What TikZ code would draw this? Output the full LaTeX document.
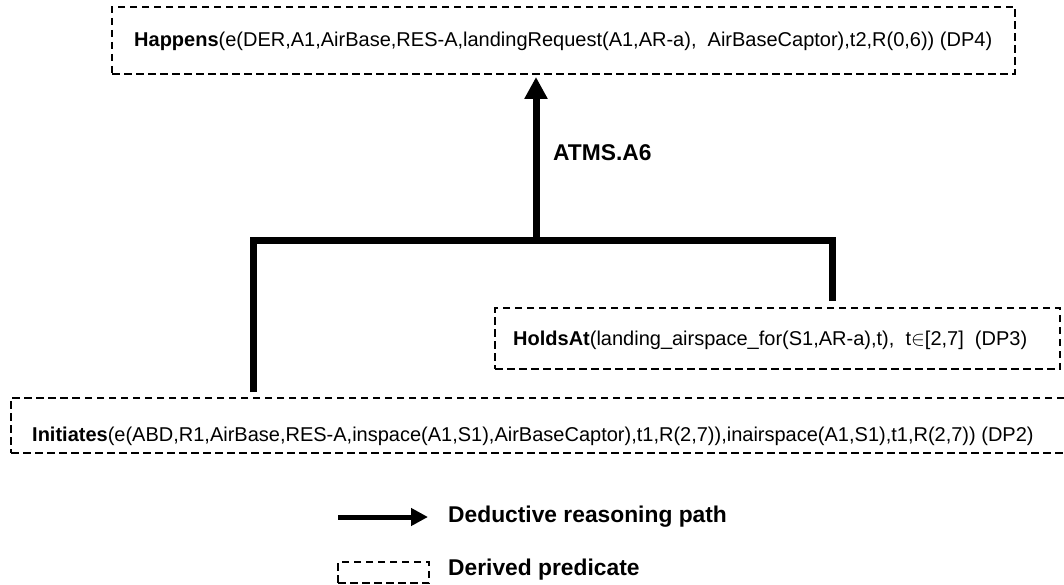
\documentclass[tikz,border=0pt]{standalone}
\usepackage{fontspec}
\setmainfont{Liberation Sans}
\usetikzlibrary{arrows.meta}
\begin{document}
\begin{tikzpicture}[x=1pt,y=-1pt,
  pred/.style={draw, line width=1.3pt, dash pattern=on 7.5pt off 4.5pt, inner sep=0pt},
  ptext/.style={font=\fontsize{20}{22}\selectfont, anchor=west, inner sep=0pt},
  reason/.style={line width=7pt, line join=miter},
  lbl/.style={font=\fontsize{22.8}{25}\selectfont\bfseries, anchor=west, inner sep=0pt}]
\useasboundingbox (0,0) rectangle (1064,585);
\fill[white] (0,0) rectangle (1064,585);

% derived predicates
\node[pred, minimum width=903pt, minimum height=67pt] (dp4) at (563.5,40.5) {};
\node[ptext] (dp4t) at (134,41) {\textbf{Happens}(e(DER,A1,AirBase,RES-A,landingRequest(A1,AR-a),\ \ AirBaseCaptor),t2,R(0,6)) (DP4)};

\node[pred, minimum width=565pt, minimum height=61pt] (dp3) at (777.5,338.5) {};
\node[ptext] (dp3t) at (513,340) {\textbf{HoldsAt}(landing\_airspace\_for(S1,AR-a),t),\ \ t$\in$[2,7]\ \ (DP3)};

\node[pred, minimum width=1057pt, minimum height=55pt] (dp2) at (539.5,425.5) {};
\node[ptext] (dp2t) at (32,436) {\textbf{Initiates}(e(ABD,R1,AirBase,RES-A,inspace(A1,S1),AirBaseCaptor),t1,R(2,7)),inairspace(A1,S1),t1,R(2,7)) (DP2)};

% reasoning tree
\coordinate (hub) at (536,240);
\coordinate (lft) at (253,240);
\coordinate (rgt) at (832,240);
\coordinate (lftend) at (253,392);
\coordinate (rgtend) at (832,301);
\coordinate (tip) at (536,77);
\draw[reason] (lftend) -- (lft) -- (rgt) -- (rgtend);
\draw[reason, -{Triangle[length=22pt,width=22pt]}] (hub) -- (tip);
\node[lbl] (rule) at (553,153) {ATMS.A6};

% legend
\coordinate (la) at (338,517);
\coordinate (lb) at (428,517);
\draw[line width=5pt, -{Triangle[length=17pt,width=17pt]}] (la) -- (lb);
\node[lbl] (legarrow) at (448,517) {Deductive reasoning path};
\node[pred, minimum width=91pt, minimum height=21pt] (legbox) at (383.5,572.5) {};
\node[lbl] (legpred) at (448,570) {Derived predicate};
\end{tikzpicture}
\end{document}
